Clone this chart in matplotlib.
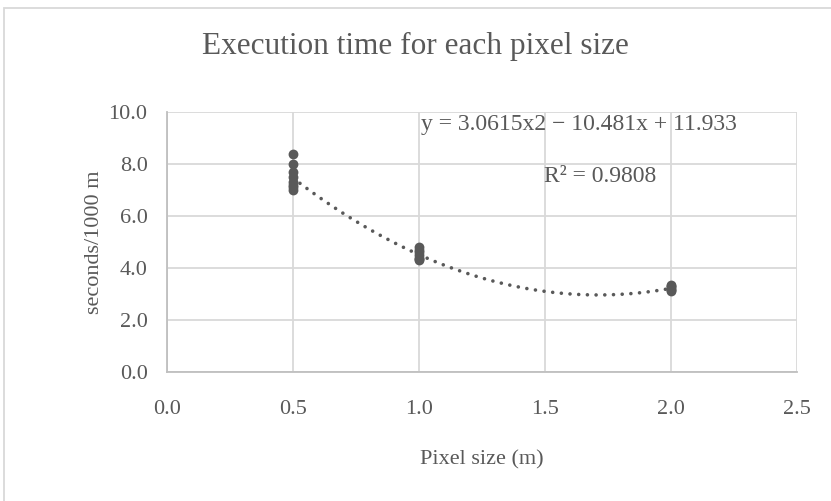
import numpy as np
import matplotlib
matplotlib.use("Agg")
import matplotlib.pyplot as plt
from matplotlib.patches import Rectangle

plt.rcParams['font.family'] = ['Liberation Serif', 'DejaVu Serif']

# datos
pixel = [0.5, 0.5, 0.5, 0.5, 0.5, 0.5, 0.5, 0.5,
         1.0, 1.0, 1.0, 1.0, 1.0, 1.0, 1.0,
         2.0, 2.0, 2.0, 2.0, 2.0, 2.0]
segundos = [8.4, 8.0, 7.7, 7.5, 7.3, 7.2, 7.1, 7.0,
            4.8, 4.7, 4.6, 4.5, 4.4, 4.35, 4.3,
            3.35, 3.3, 3.25, 3.2, 3.15, 3.1]
coef = [3.0615, -10.481, 11.933]  # linea de tendencia polinomica
r2 = 0.9808

gris = "#595959"

fig = plt.figure(figsize=(8.31, 5.01), dpi=100)
ax = fig.add_axes([0.201, 0.2575, 0.758, 0.519])

# linea de tendencia
xt = np.linspace(min(pixel), max(pixel), 300)
yt = np.polyval(coef, xt)
ax.plot(xt, yt, color=gris, linestyle=(0, (0.01, 2.4)), linewidth=2.6,
        dash_capstyle="round", zorder=2)

ax.scatter(pixel, segundos, s=50, color=gris, zorder=3, linewidths=0)

ax.set_xlim(0, 2.5)
ax.set_ylim(0, 10)
ax.set_xticks(np.arange(0, 2.51, 0.5))
ax.set_yticks(np.arange(0, 10.1, 2))
ax.set_xticklabels(["%.1f" % v for v in np.arange(0, 2.51, 0.5)])
ax.set_yticklabels(["%.1f" % v for v in np.arange(0, 10.1, 2)])
ax.grid(True, color="#d9d9d9", linewidth=1.3)
ax.set_axisbelow(True)
ax.tick_params(axis="x", length=0, labelsize=16, colors=gris, pad=20)
ax.tick_params(axis="y", length=0, labelsize=16, colors=gris, pad=14)
for s in ["top", "right"]:
    ax.spines[s].set_visible(False)
for s in ["left", "bottom"]:
    ax.spines[s].set_color("#bfbfbf")
    ax.spines[s].set_linewidth(1.3)

ax.set_xlabel("Pixel size (m)", fontsize=16, color=gris, labelpad=23)
ax.set_ylabel("seconds/1000 m", fontsize=16, color=gris, labelpad=3)
fig.text(0.5, 0.908, "Execution time for each pixel size", ha="center",
         va="center", fontsize=22.5, color=gris)

ax.text(0.654, 0.952, "y = 3.0615x2 \u2212 10.481x + 11.933", transform=ax.transAxes,
        ha="center", va="center", fontsize=17, color=gris)
ax.text(0.687, 0.752, "R\u00b2 = %.4f" % r2, transform=ax.transAxes,
        ha="center", va="center", fontsize=17, color=gris)

fig.patches.append(Rectangle((0.005, -0.01), 1.0, 0.994, transform=fig.transFigure,
                             fill=False, edgecolor="#d9d9d9", linewidth=1.3))

fig.savefig("out.png", dpi=100)
